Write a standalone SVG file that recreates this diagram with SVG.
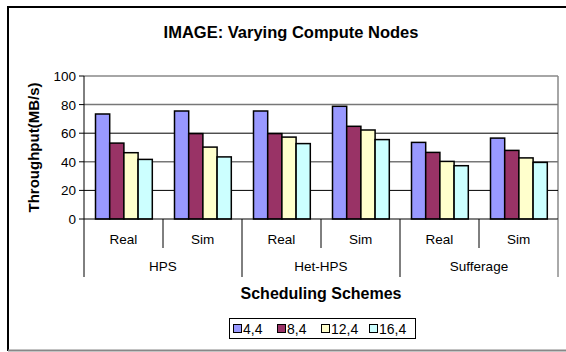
<svg xmlns="http://www.w3.org/2000/svg" width="566" height="352" viewBox="0 0 566 352">
<style>
text{font-family:"Liberation Sans",Arial,sans-serif;fill:#000}
.t{font-weight:bold;font-size:16px}
.yl{font-size:13.5px;text-anchor:end}
.xl{font-size:13.5px;text-anchor:middle}
.lg{font-size:14px}
.b{stroke:#000;stroke-width:1.5}
.s1{fill:#9999FF}.s2{fill:#993366}.s3{fill:#FFFFCC}.s4{fill:#CCFFFF}
.ax{stroke:#000;stroke-width:1;fill:none}
</style>
<rect x="0" y="0" width="566" height="352" fill="#fff"/>
<g id="frame">
<line x1="8" y1="6" x2="8" y2="351" stroke="#000" stroke-width="2"/>
<line x1="7" y1="7" x2="566" y2="7" stroke="#000" stroke-width="2"/>
<line x1="8" y1="350.5" x2="566" y2="350.5" stroke="#888" stroke-width="2"/>
</g>
<g id="title"><text class="t" x="291" y="38" text-anchor="middle" style="font-size:16.5px">IMAGE: Varying Compute Nodes</text></g>
<g id="grid">
<line x1="84" y1="76" x2="558" y2="76" stroke="#888" stroke-width="1.5"/>
<line x1="558" y1="76" x2="558" y2="219" stroke="#888" stroke-width="1.5"/>
<line x1="84" y1="104.6" x2="558" y2="104.6" stroke="#777" stroke-width="1.5"/>
<line x1="84" y1="133.2" x2="558" y2="133.2" stroke="#000" stroke-width="1"/>
<line x1="84" y1="161.8" x2="558" y2="161.8" stroke="#777" stroke-width="1.5"/>
<line x1="84" y1="190.4" x2="558" y2="190.4" stroke="#000" stroke-width="1"/>
</g>
<g id="bars" class="b">
<rect class="s1" x="95.5" y="114" width="14.2" height="105"/>
<rect class="s2" x="109.7" y="143.1" width="14.2" height="75.9"/>
<rect class="s3" x="123.9" y="152.7" width="14.2" height="66.3"/>
<rect class="s4" x="138.1" y="159.4" width="14.2" height="59.6"/>
<rect class="s1" x="174.5" y="111" width="14.2" height="108"/>
<rect class="s2" x="188.7" y="133.6" width="14.2" height="85.4"/>
<rect class="s3" x="202.9" y="147.1" width="14.2" height="71.9"/>
<rect class="s4" x="217.1" y="156.9" width="14.2" height="62.1"/>
<rect class="s1" x="253.5" y="111" width="14.2" height="108"/>
<rect class="s2" x="267.7" y="133.6" width="14.2" height="85.4"/>
<rect class="s3" x="281.9" y="137.1" width="14.2" height="81.9"/>
<rect class="s4" x="296.1" y="143.6" width="14.2" height="75.4"/>
<rect class="s1" x="332.5" y="106.3" width="14.2" height="112.7"/>
<rect class="s2" x="346.7" y="126.3" width="14.2" height="92.7"/>
<rect class="s3" x="360.9" y="130" width="14.2" height="89"/>
<rect class="s4" x="375.1" y="139.6" width="14.2" height="79.4"/>
<rect class="s1" x="411.5" y="142.4" width="14.2" height="76.6"/>
<rect class="s2" x="425.7" y="152.4" width="14.2" height="66.6"/>
<rect class="s3" x="439.9" y="161.4" width="14.2" height="57.6"/>
<rect class="s4" x="454.1" y="165.7" width="14.2" height="53.3"/>
<rect class="s1" x="490.5" y="138.1" width="14.2" height="80.9"/>
<rect class="s2" x="504.7" y="150.4" width="14.2" height="68.6"/>
<rect class="s3" x="518.9" y="157.9" width="14.2" height="61.1"/>
<rect class="s4" x="533.1" y="162.4" width="14.2" height="56.6"/>
</g>
<g id="axes" class="ax">
<line x1="84" y1="76" x2="84" y2="277"/>
<line x1="79" y1="219" x2="558" y2="219"/>
<path d="M79 76H84M79 104.6H84M79 133.2H84M79 161.8H84M79 190.4H84"/>
<path d="M163 219V248M321 219V248M479 219V248"/>
<path d="M242 219V277M400 219V277"/>
<line x1="558" y1="219" x2="558" y2="277" stroke="#555"/>
</g>
<g id="ylabels">
<text class="yl" x="76" y="81">100</text>
<text class="yl" x="76" y="109.6">80</text>
<text class="yl" x="76" y="138.2">60</text>
<text class="yl" x="76" y="166.8">40</text>
<text class="yl" x="76" y="195.4">20</text>
<text class="yl" x="76" y="224">0</text>
</g>
<g id="ytitle"><text class="t" style="font-size:15px" text-anchor="middle" transform="translate(39 147.5) rotate(-90)">Throughput(MB/s)</text></g>
<g id="xlabels">
<text class="xl" x="123.5" y="244">Real</text>
<text class="xl" x="202.5" y="244">Sim</text>
<text class="xl" x="281.5" y="244">Real</text>
<text class="xl" x="360.5" y="244">Sim</text>
<text class="xl" x="439.5" y="244">Real</text>
<text class="xl" x="518.5" y="244">Sim</text>
<text class="xl" x="163" y="271">HPS</text>
<text class="xl" x="321" y="271">Het-HPS</text>
<text class="xl" x="479" y="271">Sufferage</text>
</g>
<g id="xtitle"><text class="t" x="321" y="299" text-anchor="middle">Scheduling Schemes</text></g>
<g id="legend">
<rect x="229.5" y="318.5" width="186" height="20" fill="#fff" stroke="#000" stroke-width="1"/>
<rect class="s1" x="233.5" y="324.5" width="8" height="8" stroke="#000"/>
<text class="lg" x="243" y="333.5">4,4</text>
<rect class="s2" x="277.5" y="324.5" width="8" height="8" stroke="#000"/>
<text class="lg" x="287" y="333.5">8,4</text>
<rect class="s3" x="321.5" y="324.5" width="8" height="8" stroke="#000"/>
<text class="lg" x="331" y="333.5">12,4</text>
<rect class="s4" x="369.5" y="324.5" width="8" height="8" stroke="#000"/>
<text class="lg" x="379" y="333.5">16,4</text>
</g>
</svg>
